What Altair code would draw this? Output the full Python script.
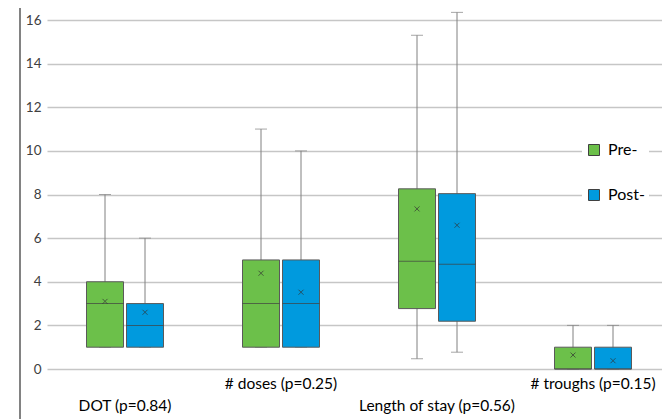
import altair as alt
import pandas as pd

categories = ["DOT (p=0.84)", "# doses (p=0.25)", "Length of stay (p=0.56)", "# troughs (p=0.15)"]
groups = ["Pre-", "Post-"]

pre_min = [1, 1, 0.47, 0]
pre_q1 = [1, 1, 2.77, 0]
pre_median = [3, 3, 4.94, 0]
pre_q3 = [4, 5, 8.26, 1]
pre_max = [8, 11, 15.3, 2]
pre_mean = [3.1, 4.39, 7.34, 0.64]

post_min = [1, 1, 0.77, 0]
post_q1 = [1, 1, 2.19, 0]
post_median = [2, 3, 4.8, 0]
post_q3 = [3, 5, 8.04, 1]
post_max = [6, 10, 16.35, 2]
post_mean = [2.6, 3.52, 6.59, 0.38]

stats = {
    "Pre-": (pre_min, pre_q1, pre_median, pre_q3, pre_max, pre_mean),
    "Post-": (post_min, post_q1, post_median, post_q3, post_max, post_mean),
}
rows = []
for i, c in enumerate(categories):
    for g in groups:
        mn, q1, md, q3, mx, me = stats[g]
        rows.append(dict(category=c, group=g, min=mn[i], q1=q1[i], median=md[i],
                         q3=q3[i], max=mx[i], mean=me[i]))
df = pd.DataFrame(rows)

FONT = "Lato"
lower_row = categories[0::2]
label_expr = ("indexof(" + str(lower_row) + ", datum.value) >= 0 ? ['', datum.label] : datum.label")

x_enc = alt.X("category:N", sort=categories,
              scale=alt.Scale(range=[0, 624], paddingInner=0, paddingOuter=0),
              axis=alt.Axis(title=None, labelAngle=0, ticks=False, domain=False,
                            labelExpr=label_expr, labelLineHeight=22, labelBaseline="top",
                            labelPadding=7, labelFontSize=15.5, labelFont=FONT,
                            labelColor="#000000", labelLimit=300))
xo_enc = alt.XOffset("group:N", sort=groups,
                     scale=alt.Scale(paddingInner=0.075, paddingOuter=0.9875))


def yq(field, axis=None):
    if axis is None:
        return alt.Y(field + ":Q", title=None, scale=alt.Scale(domain=[0, 16], nice=False))
    return alt.Y(field + ":Q", title=None, scale=alt.Scale(domain=[0, 16], nice=False), axis=axis)


base = alt.Chart(df).encode(x=x_enc, xOffset=xo_enc)

y_axis = alt.Axis(values=list(range(0, 17, 2)), ticks=False, domain=False, grid=True,
                  gridColor="#c6c6c6", gridWidth=1.3, labelFontSize=13.5, labelFont=FONT,
                  labelColor="#404040", labelPadding=6)

whisker = base.mark_rule(color="#808080", strokeWidth=1).encode(y=yq("min", y_axis), y2="max:Q")
cap_top = base.mark_tick(size=12, thickness=1, color="#808080").encode(y=yq("max"))
cap_bot = base.mark_tick(size=12, thickness=1, color="#808080").encode(y=yq("min"))
box = base.mark_bar(stroke="#5a5a5a", strokeWidth=1).encode(
    y=yq("q1"), y2="q3:Q",
    color=alt.Color("group:N", sort=groups,
                    scale=alt.Scale(domain=groups, range=["#6CC04A", "#009ADE"]),
                    legend=alt.Legend(title=None, orient="none", legendX=535, legendY=118,
                                      symbolType="square", symbolSize=121,
                                      symbolStrokeColor="#404040", symbolStrokeWidth=1,
                                      labelFontSize=16, labelFont=FONT, labelColor="#000000",
                                      labelOffset=6, fillColor="white", padding=4,
                                      rowPadding=29)))
median = base.mark_tick(size=37, thickness=1, color="#404040").encode(y=yq("median"))
mean = base.mark_point(shape="M-1,-1L1,1M-1,1L1,-1", size=25, strokeWidth=1,
                       color="#333333", filled=False).encode(y=yq("mean"))

border = alt.Chart(pd.DataFrame({"a": [0]})).mark_rule(color="#595959", strokeWidth=1.5).encode(
    x=alt.value(-27), y=alt.value(-12), y2=alt.value(399))

chart = alt.layer(whisker, cap_top, cap_bot, box, median, mean, border).properties(
    width=615, height=349,
    autosize=alt.AutoSizeParams(type="none"),
    padding={"left": 39, "top": 12, "right": 0, "bottom": 50},
).configure_view(stroke=None)

chart.save("out.html", embed_options={"renderer": "svg", "actions": False})
